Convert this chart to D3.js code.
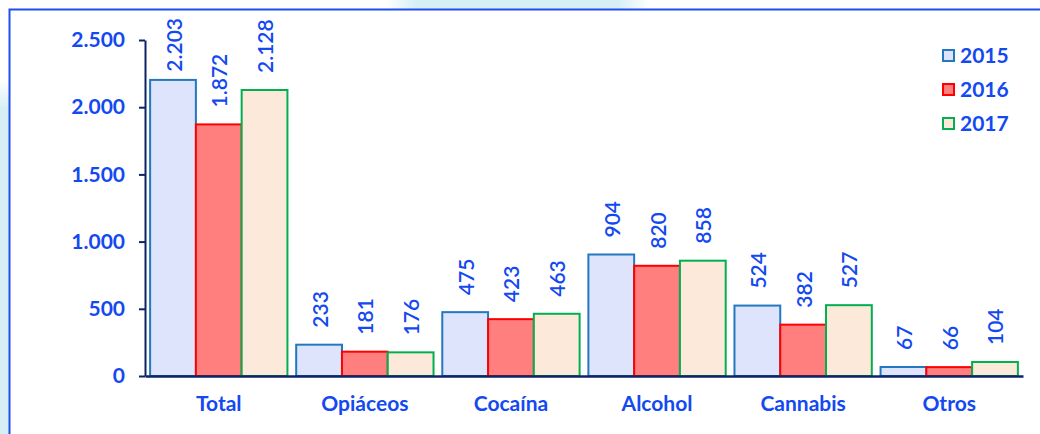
<!DOCTYPE html>
<html lang="es">
<head>
<meta charset="UTF-8">
<title>Admisiones</title>
<script src="https://d3js.org/d3.v7.min.js"></script>
<style>
  body { margin: 0; background: #fff; }
  text { font-family: Lato, "Open Sans", sans-serif; }
</style>
</head>
<body>
<div id="chart"></div>
<script>
// data
const categories = ["Total", "Opiáceos", "Cocaína", "Alcohol", "Cannabis", "Otros"];
const years = ["2015", "2016", "2017"];
const v2015 = [2203, 233, 475, 904, 524, 67];
const v2016 = [1872, 181, 423, 820, 382, 66];
const v2017 = [2128, 176, 463, 858, 527, 104];
const yTicks = [0, 500, 1000, 1500, 2000, 2500];

const series = [v2015, v2016, v2017];
const fills = ["#dde4fb", "#ff7f7f", "#fce9da"];
const strokes = ["#2378c0", "#ff0000", "#00b050"];
const blue = "#1349f0";
const navy = "#0c2463";

const width = 1040, height = 434;
const svg = d3.select("#chart").append("svg")
  .attr("width", width).attr("height", height);

// soft background patches behind the frame
const defs = svg.append("defs");
const gTop = defs.append("linearGradient").attr("id", "gtop");
gTop.append("stop").attr("offset", "0%").attr("stop-color", "#d6eef6").attr("stop-opacity", 0);
gTop.append("stop").attr("offset", "12%").attr("stop-color", "#d6eef6").attr("stop-opacity", 1);
gTop.append("stop").attr("offset", "88%").attr("stop-color", "#d6eef6").attr("stop-opacity", 1);
gTop.append("stop").attr("offset", "100%").attr("stop-color", "#d6eef6").attr("stop-opacity", 0);
const gLeft = defs.append("linearGradient").attr("id", "gleft")
  .attr("x1", 0).attr("x2", 0).attr("y1", 0).attr("y2", 1);
gLeft.append("stop").attr("offset", "0%").attr("stop-color", "#d6eef6").attr("stop-opacity", 0);
gLeft.append("stop").attr("offset", "8%").attr("stop-color", "#d6eef6").attr("stop-opacity", 1);
gLeft.append("stop").attr("offset", "100%").attr("stop-color", "#d6eef6").attr("stop-opacity", 1);

svg.append("rect").attr("x", 385).attr("y", 0).attr("width", 265).attr("height", 10).attr("fill", "url(#gtop)");
svg.append("rect").attr("x", 0).attr("y", 80).attr("width", 9).attr("height", 354).attr("fill", "url(#gleft)");

// frame
svg.append("rect").attr("x", 9.5).attr("y", 9.5)
  .attr("width", 1040).attr("height", 440)
  .attr("fill", "#fff").attr("stroke", "#1f4fe8").attr("stroke-width", 2);

const plot = { left: 145, right: 1023, top: 40, bottom: 376 };

const x0 = d3.scaleBand().domain(categories)
  .range([plot.left, plot.right])
  .paddingInner(0.06).paddingOuter(0.035);
const x1 = d3.scaleBand().domain(years).range([0, x0.bandwidth()]);
const y = d3.scaleLinear().domain([0, 2500]).range([plot.bottom, plot.top]);

const fmt = v => d3.format(",")(v).replace(/,/g, ".");

// bars
series.forEach((vals, s) => {
  svg.append("g").selectAll("rect")
    .data(vals)
    .join("rect")
      .attr("x", (d, i) => x0(categories[i]) + x1(years[s]))
      .attr("y", d => y(d))
      .attr("width", x1.bandwidth())
      .attr("height", d => y(0) - y(d))
      .attr("fill", fills[s])
      .attr("stroke", strokes[s])
      .attr("stroke-width", 2);
});

// value labels, rotated
series.forEach((vals, s) => {
  svg.append("g").selectAll("text")
    .data(vals)
    .join("text")
      .text(d => fmt(d))
      .attr("font-size", 21)
      .attr("font-weight", 600)
      .attr("fill", blue)
      .attr("text-anchor", "start")
      .attr("dominant-baseline", "central")
      .each(function(d, i) {
        const cx = x0(categories[i]) + x1(years[s]) + x1.bandwidth() / 2;
        const len = this.getComputedTextLength();
        let start = y(d) - 17;
        if (start - len < 18) start = 18 + len;
        d3.select(this).attr("transform", `translate(${cx},${start}) rotate(-90)`);
      });
});

// y axis
const yAxis = svg.append("g")
  .attr("transform", `translate(${plot.left},0)`)
  .call(d3.axisLeft(y).tickValues(yTicks).tickFormat(fmt).tickSize(6).tickSizeOuter(0));
yAxis.select(".domain").attr("stroke", navy).attr("stroke-width", 2);
yAxis.selectAll(".tick line").attr("stroke", navy).attr("stroke-width", 2);
yAxis.selectAll(".tick text")
  .attr("x", -20)
  .attr("font-size", 21).attr("font-weight", "bold")
  .attr("fill", blue).attr("font-family", "Lato, sans-serif");

// x axis
const xAxis = svg.append("g")
  .attr("transform", `translate(0,${plot.bottom})`)
  .call(d3.axisBottom(x0).tickSize(0).tickSizeOuter(0));
xAxis.select(".domain").attr("stroke", navy).attr("stroke-width", 2.5);
xAxis.selectAll(".tick text")
  .attr("y", 20)
  .attr("dy", "0.71em")
  .attr("font-size", 21).attr("font-weight", "bold")
  .attr("fill", blue).attr("font-family", "Lato, sans-serif");

// legend
const legend = svg.append("g").attr("transform", "translate(943,50)");
years.forEach((yr, s) => {
  const row = legend.append("g").attr("transform", `translate(0,${s * 34})`);
  row.append("rect").attr("x", 0).attr("y", 0).attr("width", 11).attr("height", 11)
    .attr("fill", fills[s]).attr("stroke", strokes[s]).attr("stroke-width", 2);
  row.append("text").attr("x", 17).attr("y", 6).attr("dy", "0.35em")
    .attr("font-size", 21).attr("font-weight", "bold").attr("fill", blue).text(yr);
});
</script>
</body>
</html>
